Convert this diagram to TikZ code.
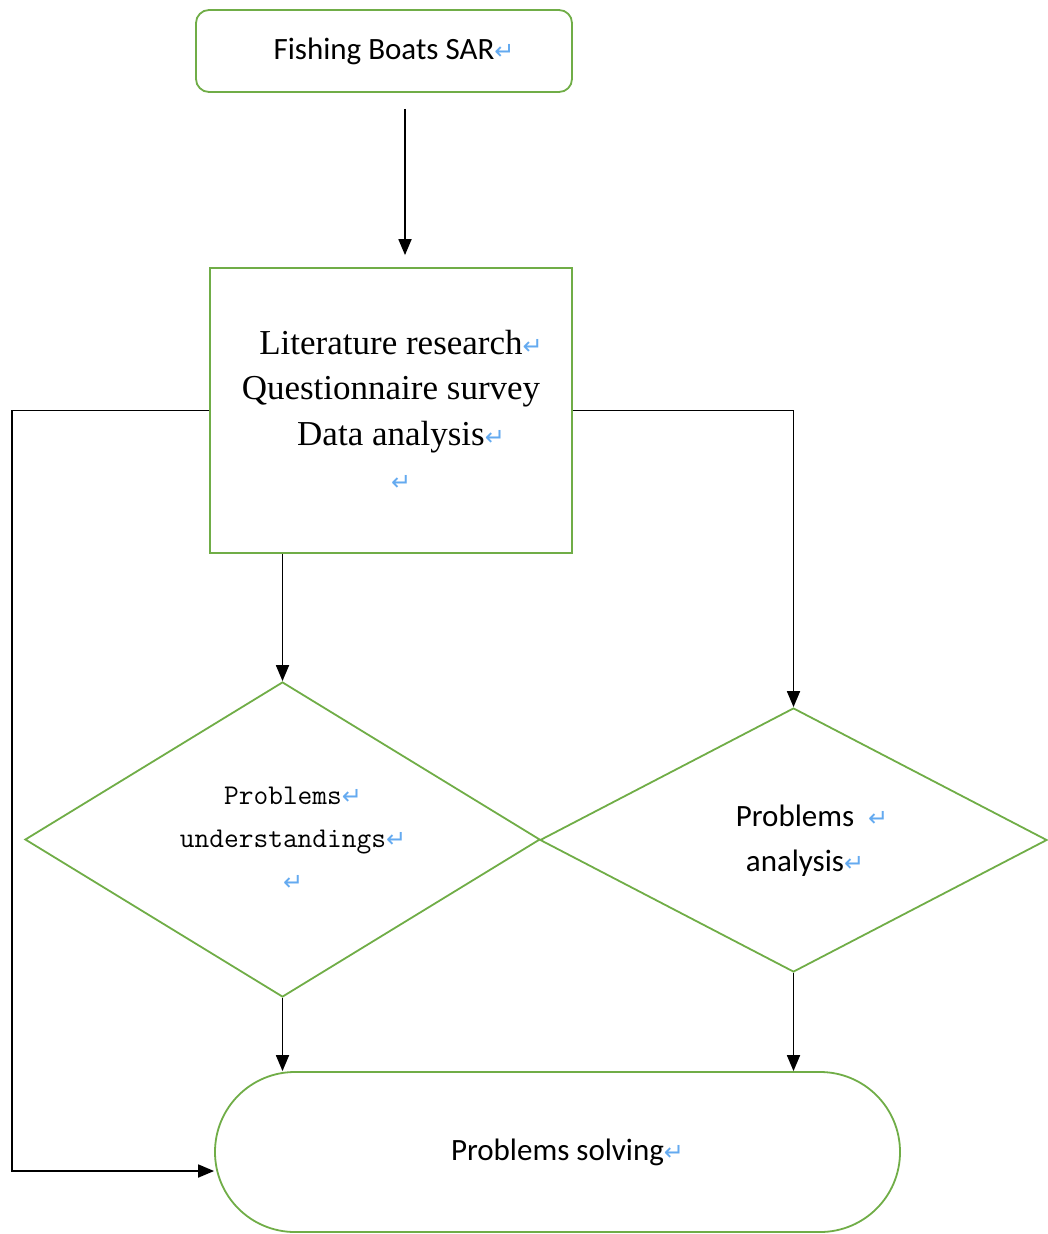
\documentclass[tikz,border=0pt]{standalone}
\usepackage{fontspec}
\setmainfont{Liberation Serif}
\newfontfamily\calfont{Carlito}
\newfontfamily\symfont{DejaVu Sans}
\usetikzlibrary{shapes.geometric,arrows.meta,calc}
\definecolor{boxgreen}{RGB}{112,173,71}
\definecolor{retblue}{RGB}{100,170,240}
\newcommand\retmark{{\symfont\color{retblue}\fontsize{24}{24}\selectfont ↵}}
\newcommand\rret{\rlap{\retmark}}
\tikzset{
  gbox/.style={draw=boxgreen, line width=1.8pt, inner sep=0pt, fill=white},
  gdiam/.style={diamond, draw=boxgreen, line width=1.8pt, inner sep=0pt},
  conn/.style={draw=black, line width=1.8pt, -{Triangle[length=16pt,width=13pt]}},
}
\begin{document}
\begin{tikzpicture}[x=1pt,y=-1pt]
\useasboundingbox (0,0) rectangle (1048,1234);
% top rounded box
\node[gbox, rounded corners=13pt, minimum width=376pt, minimum height=82pt,
  font=\calfont\fontsize{31}{36}\selectfont] (fb) at (384,51)
  {Fishing Boats SAR\rret};
% methods box
\node[gbox, minimum width=362pt, minimum height=285pt, align=center,
  font=\fontsize{35}{45.5}\selectfont] (lit) at (391,410.5)
  {Literature research\rret\\ Questionnaire survey\\ Data analysis\rret\\ \rret};
% diamonds
\node[gdiam, minimum width=515pt, minimum height=315pt] (d1) at (282.5,839.5) {};
\node[gdiam, minimum width=507pt, minimum height=264pt] (d2) at (793.5,840) {};
\node[align=center, inner sep=0pt, font=\ttfamily\fontsize{28.6}{43}\selectfont] (t1) at (283,839)
  {Problems\rret\\ understandings\rret\\ \rret};
\node[align=center, inner sep=0pt, font=\calfont\fontsize{31}{45}\selectfont] (t2) at (795,841)
  {Problems\rlap{\hspace{14pt}\retmark}\\ analysis\rret};
% stadium
\node[gbox, rounded corners=79.9pt, minimum width=685pt, minimum height=160pt,
  font=\calfont\fontsize{31}{36}\selectfont] (ps) at (557.5,1152)
  {Problems solving\rret};
% connectors
\coordinate (ax) at (405,0);
\coordinate (lx) at (12,0);
\coordinate (psin) at ($(ps.west)+(0,19)$);
\draw[conn, shorten <=16pt, shorten >=12pt] (fb.south -| ax) -- (lit.north -| ax);
\draw[conn] (lit.west) -- (lit.west -| lx) |- (psin);
\draw[conn] (lit.east) -| (d2.north);
\draw[conn] (lit.south -| d1.north) -- (d1.north);
\draw[conn] (d1.south) -- (d1.south |- ps.north);
\draw[conn] (d2.south) -- (d2.south |- ps.north);
\end{tikzpicture}
\end{document}
